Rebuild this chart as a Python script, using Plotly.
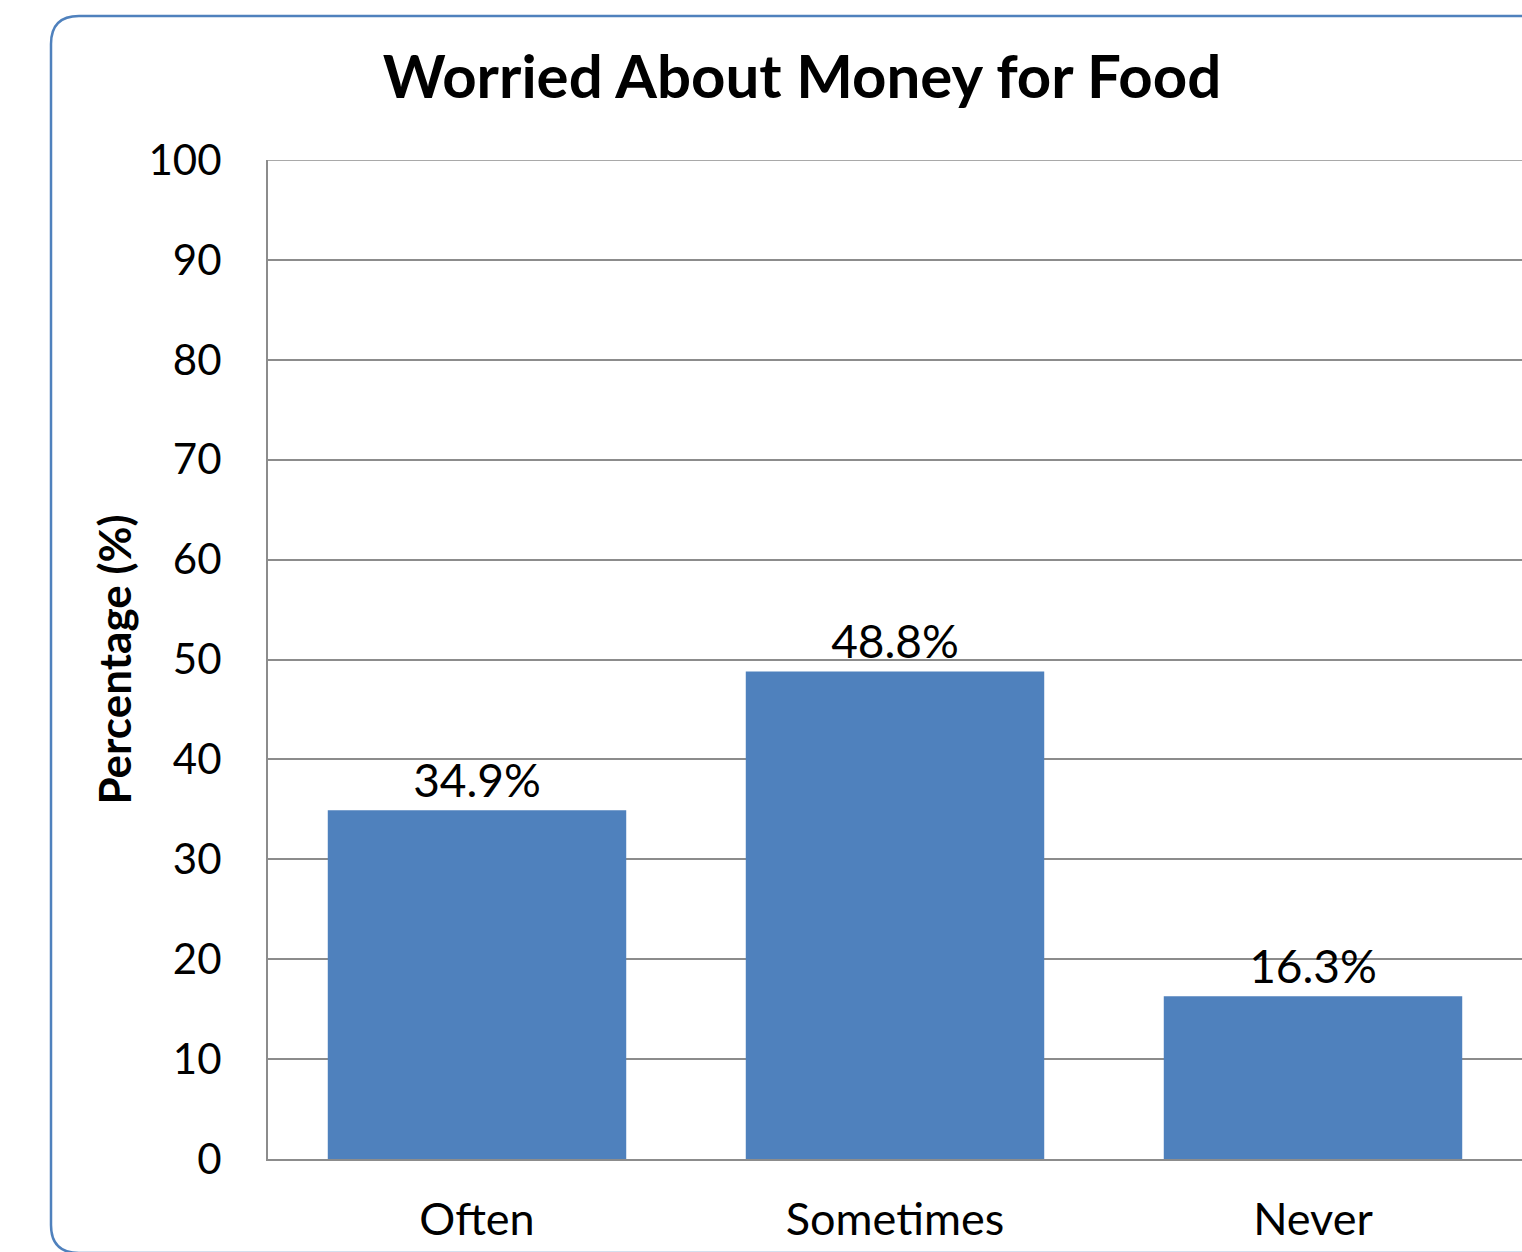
import plotly.graph_objects as go

categories = ["Often", "Sometimes", "Never"]
values = [34.9, 48.8, 16.3]
labels = ["34.9%", "48.8%", "16.3%"]
title_text = "Worried About Money for Food"
y_title = "Percentage (%)"
y_max = 100

W, H = 1522, 1252
L, R, T, B = 268, 1522, 160, 1159

def px(x):
    return (x - L) / (R - L)

def py(y):
    return (B - y) / (B - T)

# rounded chart border (decoration)
x0, y0, x1, y1, r = 51, 16, 1560, 1253, 28
path = (
    f"M {px(x0)},{py(y0 + r)} "
    f"Q {px(x0)},{py(y0)} {px(x0 + r)},{py(y0)} "
    f"L {px(x1 - r)},{py(y0)} "
    f"Q {px(x1)},{py(y0)} {px(x1)},{py(y0 + r)} "
    f"L {px(x1)},{py(y1 - r)} "
    f"Q {px(x1)},{py(y1)} {px(x1 - r)},{py(y1)} "
    f"L {px(x0 + r)},{py(y1)} "
    f"Q {px(x0)},{py(y1)} {px(x0)},{py(y1 - r)} Z"
)

font = "Lato, 'Open Sans', sans-serif"

fig = go.Figure(
    go.Bar(
        x=categories,
        y=values,
        text=labels,
        textposition="outside",
        textfont=dict(family=font, size=46, color="#000000"),
        marker=dict(color="#4F81BD", line=dict(width=0)),
        cliponaxis=False,
        hoverinfo="skip",
    )
)

fig.update_layout(
    width=W,
    height=H,
    margin=dict(l=L, r=W - R, t=T, b=H - B, pad=0),
    paper_bgcolor="white",
    plot_bgcolor="white",
    bargap=0.286,
    showlegend=False,
    title=dict(
        text=f"<b>{title_text}</b>",
        x=802 / W,
        xanchor="center",
        y=1 - 77 / H,
        yanchor="middle",
        font=dict(family=font, size=60, color="#000000"),
    ),
    font=dict(family=font, color="#000000"),
    shapes=[
        dict(
            type="path",
            path=path,
            xref="paper",
            yref="paper",
            line=dict(color="#4F81BD", width=2.5),
            fillcolor="rgba(0,0,0,0)",
            layer="below",
        ),
        dict(
            type="line",
            xref="paper",
            yref="y",
            x0=0,
            x1=1,
            y0=y_max,
            y1=y_max,
            line=dict(color="#8c8c8c", width=1.5),
            layer="below",
        ),
    ],
)

fig.update_xaxes(
    range=[-0.5, 2.5],
    showgrid=False,
    showline=True,
    linecolor="#8c8c8c",
    linewidth=2,
    ticks="",
    tickfont=dict(family=font, size=45, color="#000000"),
    ticklabelstandoff=20,
    fixedrange=True,
)

fig.update_yaxes(
    range=[0, y_max],
    dtick=10,
    showgrid=True,
    gridcolor="#8c8c8c",
    gridwidth=1.5,
    showline=True,
    linecolor="#8c8c8c",
    linewidth=2,
    zeroline=False,
    ticks="",
    tickfont=dict(family=font, size=42, color="#000000"),
    ticklabelstandoff=36,
    title=dict(
        text=f"<b>{y_title}</b>",
        font=dict(family=font, size=44, color="#000000"),
        standoff=3,
    ),
    fixedrange=True,
)

fig.write_html(
    "out.html",
    config={"displayModeBar": False},
    post_script="document.body.style.margin='0';document.body.style.overflow='hidden';",
)
